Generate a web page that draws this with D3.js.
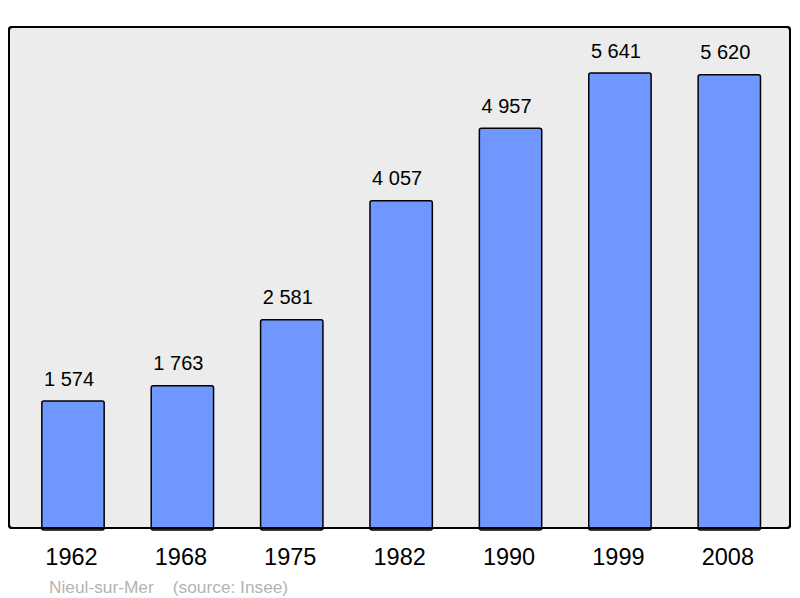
<!DOCTYPE html>
<html><head><meta charset="utf-8">
<script src="https://cdn.jsdelivr.net/npm/d3@7/dist/d3.min.js"></script>
<style>body{margin:0;background:#fff}svg{display:block}</style>
</head><body>
<script>
const years = ["1962","1968","1975","1982","1990","1999","2008"];
const population = [1574,1763,2581,4057,4957,5641,5620];
const footerName = "Nieul-sur-Mer";
const footerSource = "(source: Insee)";

const W=800,H=598;
const svg=d3.select("body").append("svg").attr("width",W).attr("height",H);
const panel={x0:9,y0:27,x1:790,y1:528};
svg.append("rect").attr("x",panel.x0).attr("y",panel.y0).attr("width",panel.x1-panel.x0).attr("height",panel.y1-panel.y0)
  .attr("rx",3).attr("fill","#ececec").attr("stroke","#000").attr("stroke-width",2);

const x=d3.scaleBand().domain(years).range([18.3,784]).paddingInner(0.43).paddingOuter(0.215);
const y=d3.scaleLinear().domain([0,5641]).range([528,73]);
const fmt=v=>d3.format(",")(v).replace(/,/g," ");

svg.selectAll("rect.bar").data(population).join("rect").attr("class","bar")
  .attr("x",(d,i)=>x(years[i])).attr("width",x.bandwidth())
  .attr("y",d=>y(d)).attr("height",d=>y(0)-y(d)+2).attr("rx",2)
  .attr("fill","#7096ff").attr("stroke","#000").attr("stroke-width",1.5);

svg.append("rect").attr("x",panel.x0).attr("y",panel.y0).attr("width",panel.x1-panel.x0).attr("height",panel.y1-panel.y0)
  .attr("rx",3).attr("fill","none").attr("stroke","#000").attr("stroke-width",2);

svg.selectAll("text.val").data(population).join("text").attr("class","val")
  .attr("x",(d,i)=>x(years[i])+x.bandwidth()/2-4).attr("y",d=>y(d)-15.5)
  .attr("text-anchor","middle").attr("font-family","Liberation Sans, Arial, sans-serif").attr("font-size",20).attr("fill","#000")
  .text(fmt);

const ax=svg.append("g").attr("transform","translate(-1.5,528)").call(d3.axisBottom(x).tickSize(0).tickPadding(0));
ax.select(".domain").remove();
ax.selectAll("text").attr("y",37).attr("dy",0).attr("font-family","Liberation Sans, Arial, sans-serif").attr("font-size",23.5).attr("fill","#000");

svg.append("text").attr("x",49).attr("y",593).attr("font-family","Liberation Sans, Arial, sans-serif").attr("font-size",17.3).attr("fill","#b3b3b3")
  .attr("xml:space","preserve").text(footerName+"    "+footerSource);
</script>
</body></html>
